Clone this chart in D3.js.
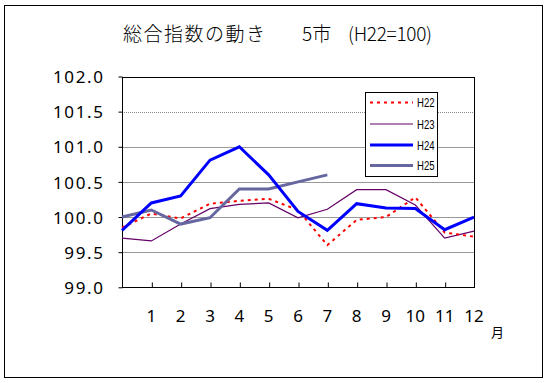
<!DOCTYPE html>
<html><head><meta charset="utf-8">
<script src="https://cdn.jsdelivr.net/npm/d3@7"></script>
<style>body{margin:0;background:#fff}svg{display:block}</style>
</head><body>
<svg id="c" width="548" height="383"></svg>
<script>
const months = ["", "1","2","3","4","5","6","7","8","9","10","11","12"];
const seriesNames = ["H22","H23","H24","H25"];
const h22 = [99.85, 100.05, 99.98, 100.19, 100.23, 100.26, 100.1, 99.6, 99.96, 100.0, 100.28, 99.78, 99.72];
const h23 = [99.7, 99.66, 99.9, 100.12, 100.18, 100.2, 99.99, 100.11, 100.39, 100.39, 100.17, 99.7, 99.8];
const h24 = [99.81, 100.2, 100.3, 100.81, 101.0, 100.6, 100.08, 99.81, 100.19, 100.13, 100.12, 99.82, 100.0];
const h25 = [100.0, 100.1, 99.9, 99.99, 100.4, 100.4, 100.5, 100.6];
const yTicks = [99.0, 99.5, 100.0, 100.5, 101.0, 101.5, 102.0];
const titleText = "総合指数の動き";
const titleCity = "5市";
const titleBase = "(H22=100)";
const unitLabel = "月";

const svg = d3.select("#c");
const L = 122, R = 474, T = 76.5, B = 287.3;
const x = d3.scaleLinear().domain([0, 12]).range([L, R]);
const y = d3.scaleLinear().domain([99, 102]).range([B, T]);

// outer frame
svg.append("rect").attr("x", 4.5).attr("y", 5.5).attr("width", 538).attr("height", 372)
  .attr("fill", "#fff").attr("stroke", "#000").attr("stroke-width", 1);

// title
const tt = svg.append("text").attr("y", 41).attr("font-family", "'Noto Sans CJK JP'")
  .attr("font-size", 19).attr("font-weight", 300).attr("fill", "#000");
tt.append("tspan").attr("x", 123).attr("textLength", 142).text(titleText);
tt.append("tspan").attr("x", 302).text(titleCity);
tt.append("tspan").attr("x", 348).attr("textLength", 84).text(titleBase);

// gridlines
yTicks.filter(v => v > 99 && v < 102).forEach(v => {
  svg.append("line").attr("x1", L).attr("x2", R)
    .attr("y1", Math.round(y(v)) + 0.5).attr("y2", Math.round(y(v)) + 0.5)
    .attr("stroke", v === 101.5 ? "#888" : "#999").attr("stroke-width", 1)
    .attr("stroke-dasharray", v === 101.5 ? "1,1" : null);
});

// plot frame
svg.append("rect").attr("x", L + 0.5).attr("y", Math.round(T) + 0.5)
  .attr("width", R - L).attr("height", Math.round(B) - Math.round(T))
  .attr("fill", "none").attr("stroke", "#000").attr("stroke-width", 1);

// y axis
const yAxis = d3.axisLeft(y).tickValues(yTicks).tickSize(4).tickFormat(d3.format(".1f"));
const gy = svg.append("g").attr("transform", `translate(${L + 0.5},0)`).call(yAxis);
gy.select(".domain").remove();
gy.selectAll("line").attr("stroke", "#000");
gy.selectAll("text").attr("font-family", "'Noto Sans'").attr("font-size", 17)
  .attr("letter-spacing", 1.6).attr("x", -18).attr("dy", "0.36em").attr("fill", "#000");

// x axis
const xAxis = d3.axisBottom(x).tickValues(d3.range(1, 12)).tickSize(-5).tickFormat("");
const gx = svg.append("g").attr("transform", `translate(0.5,${Math.round(B) + 0.5})`).call(xAxis);
gx.select(".domain").remove();
gx.selectAll("line").attr("stroke", "#000");
months.forEach((m, i) => {
  if (!m) return;
  svg.append("text").attr("x", x(i)).attr("y", 322).attr("text-anchor", "middle")
    .attr("font-family", "'Noto Sans'").attr("font-size", 17).attr("fill", "#000").text(m);
});
svg.append("text").attr("x", 491).attr("y", 337).attr("font-family", "'Noto Sans CJK JP'")
  .attr("font-size", 13).attr("fill", "#000").text(unitLabel);

// series
const styles = [
  {data: h22, color: "#ff0000", width: 2, dash: "3,4"},
  {data: h23, color: "#660066", width: 1.2, dash: null},
  {data: h24, color: "#0000ff", width: 3, dash: null},
  {data: h25, color: "#6666a0", width: 3, dash: null}
];
const line = d3.line().x((d, i) => x(i)).y(d => y(d));
const order = [1, 0, 3, 2];
order.forEach(k => {
  const s = styles[k];
  svg.append("path").datum(s.data).attr("d", line).attr("fill", "none")
    .attr("stroke", s.color).attr("stroke-width", s.width)
    .attr("stroke-dasharray", s.dash).attr("stroke-linejoin", "miter");
});

// legend
svg.append("rect").attr("x", 365.5).attr("y", 92.5).attr("width", 72).attr("height", 84)
  .attr("fill", "#fff").attr("stroke", "#000").attr("stroke-width", 1);
const ly = [102.5, 124, 145, 165.5];
seriesNames.forEach((n, i) => {
  const s = styles[i];
  svg.append("line").attr("x1", 370).attr("x2", 413).attr("y1", ly[i]).attr("y2", ly[i])
    .attr("stroke", s.color).attr("stroke-width", s.width).attr("stroke-dasharray", s.dash);
  svg.append("text").attr("x", 417).attr("y", ly[i] + 4.5).attr("font-family", "'Liberation Sans'")
    .attr("font-size", 12).attr("textLength", 17.5).attr("lengthAdjust", "spacingAndGlyphs")
    .attr("fill", "#000").text(n);
});
</script>
</body></html>
